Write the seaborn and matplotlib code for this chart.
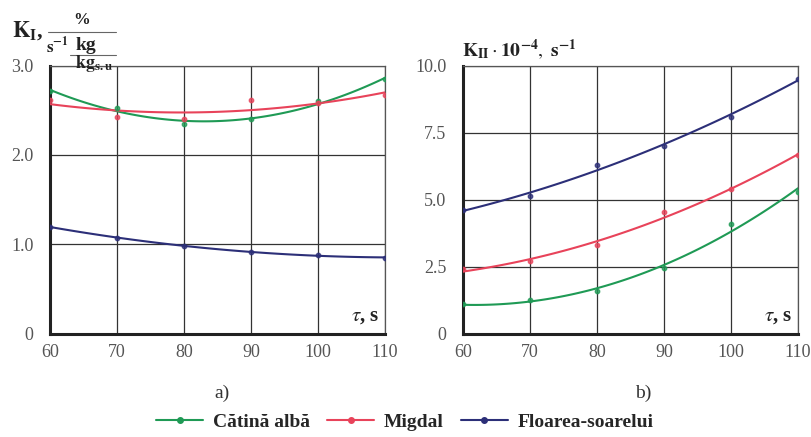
import numpy as np
import pandas as pd
import matplotlib
matplotlib.use('Agg')
import matplotlib.pyplot as plt
import seaborn as sns
from matplotlib.lines import Line2D

# ============================================================
# DATA
# ============================================================
tau = [60, 70, 80, 90, 100, 110]
species = ['Cătină albă', 'Migdal', 'Floarea-soarelui']
colors = ['#1f9a55', '#e8435a', '#2c2f78']

# a) K_I
k1_catina = [2.72, 2.52, 2.35, 2.40, 2.60, 2.85]
k1_migdal = [2.62, 2.43, 2.40, 2.62, 2.58, 2.67]
k1_floarea = [1.20, 1.07, 0.98, 0.92, 0.88, 0.85]

# b) K_II * 10^-4
k2_catina = [1.10, 1.25, 1.60, 2.45, 4.10, 5.30]
k2_migdal = [2.40, 2.70, 3.30, 4.55, 5.40, 6.65]
k2_floarea = [4.60, 5.15, 6.30, 7.00, 8.10, 9.50]

left_yticks = [0, 1.0, 2.0, 3.0]
left_ylabels = ['0', '1.0', '2.0', '3.0']
right_yticks = [0, 2.5, 5.0, 7.5, 10.0]
right_ylabels = ['0', '2.5', '5.0', '7.5', '10.0']

sns.set_style('white')
plt.rcParams['font.family'] = ['Liberation Serif', 'DejaVu Serif']
plt.rcParams['mathtext.fontset'] = 'stix'

W, H = 811, 437
fig = plt.figure(figsize=(W / 100, H / 100), dpi=100)
ax1 = fig.add_axes([0.0617, 0.236, 0.413, 0.614])
ax2 = fig.add_axes([0.571, 0.236, 0.413, 0.614])


def px(x, y):
    # pixel position (from top-left) -> figure fraction
    return x / W, 1 - y / H


def draw_panel(ax, series, yticks, ylabels, ymax):
    for vals, col in zip(series, colors):
        df = pd.DataFrame({'tau': tau, 'k': vals})
        sns.regplot(data=df, x='tau', y='k', order=2, ci=None, truncate=True,
                    ax=ax, color=col,
                    scatter_kws={'s': 10, 'zorder': 4},
                    line_kws={'lw': 1.5, 'zorder': 3})
    ax.set_xlim(60, 110)
    ax.set_ylim(0, ymax)
    ax.set_xticks(tau)
    ax.set_xticklabels([str(t) for t in tau], color='#555555', fontsize=13)
    ax.set_yticks(yticks)
    ax.set_yticklabels(ylabels, color='#555555', fontsize=13)
    ax.tick_params(axis='x', length=0, pad=7)
    ax.tick_params(axis='y', length=0, pad=12)
    ax.grid(True, color='#333333', lw=0.9)
    ax.set_xlabel('')
    ax.set_ylabel('')
    for side in ['top', 'right']:
        ax.spines[side].set_linewidth(0.9)
        ax.spines[side].set_color('#555555')
    for side in ['left', 'bottom']:
        ax.spines[side].set_linewidth(2.2)
        ax.spines[side].set_color('#222222')
    ax.text(0.985, 0.03, r'$\tau$, s', transform=ax.transAxes, ha='right',
            va='bottom', fontsize=15, fontweight='bold', color='#222222',
            bbox=dict(facecolor='white', edgecolor='none', pad=1))


draw_panel(ax1, [k1_catina, k1_migdal, k1_floarea], left_yticks, left_ylabels, 3.0)
draw_panel(ax2, [k2_catina, k2_migdal, k2_floarea], right_yticks, right_ylabels, 10.0)

# --- K_I label (stacked fraction built by hand) ---
lab = dict(color='#222222', fontweight='bold', ha='center', va='center')
fig.text(*px(28, 31), r'$\mathbf{K_I}$,', fontsize=16, **lab)
fig.text(*px(82, 20), '%', fontsize=12, **lab)
fig.add_artist(Line2D([48 / W, 116 / W], [1 - 32 / H, 1 - 32 / H], color='#666666', lw=0.8))
fig.text(*px(57, 46), r'$\mathbf{s^{-1}}$', fontsize=12, **lab)
fig.text(*px(86, 45), 'kg', fontsize=14, **lab)
fig.add_artist(Line2D([70 / W, 116 / W], [1 - 55 / H, 1 - 55 / H], color='#666666', lw=0.8))
fig.text(*px(94, 64), r'$\mathbf{kg_{s.u}}$', fontsize=13, **lab)

fig.text(*px(462, 50), r'$\mathbf{K_{II}}\cdot\mathbf{10^{-4}},\ \mathbf{s^{-1}}$',
         fontsize=14, color='#222222', ha='left', va='center')

fig.text(*px(222, 393), 'a)', ha='center', va='center', fontsize=14, color='#333333')
fig.text(*px(643, 393), 'b)', ha='center', va='center', fontsize=14, color='#333333')

handles = [Line2D([0], [0], color=c, lw=1.5, marker='o', markersize=4) for c in colors]
fig.legend(handles, species, loc='center', bbox_to_anchor=px(405, 422), ncol=3,
           frameon=False, handlelength=2.4, columnspacing=0.9, handletextpad=0.5,
           prop={'family': 'Liberation Serif', 'weight': 'bold', 'size': 14})

fig.savefig('out.png', dpi=100)
